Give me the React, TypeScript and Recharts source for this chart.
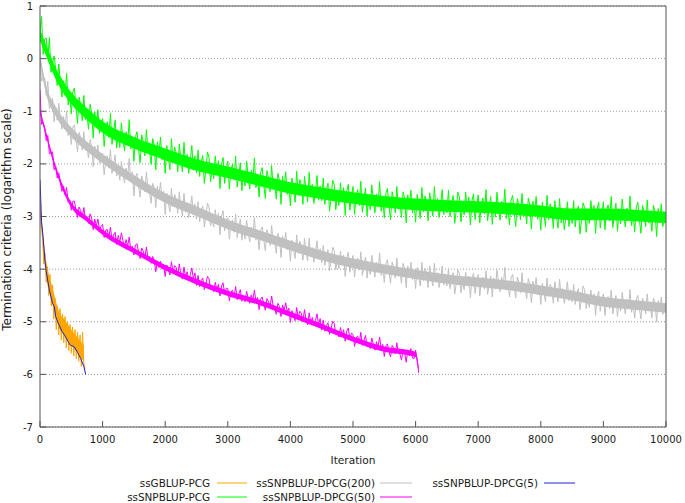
import React from 'react';
import { ComposedChart, Line, Area, XAxis, YAxis, CartesianGrid, Legend, Label } from 'recharts';

// ---------- data ----------
const xTicks = [0, 1000, 2000, 3000, 4000, 5000, 6000, 7000, 8000, 9000, 10000];
const yTicks = [-7, -6, -5, -4, -3, -2, -1, 0, 1];

const seriesNames = [
  'ssGBLUP-PCG',
  'ssSNPBLUP-PCG',
  'ssSNPBLUP-DPCG(200)',
  'ssSNPBLUP-DPCG(50)',
  'ssSNPBLUP-DPCG(5)',
];

// sampling step (iterations) of the hand-read series
const pcgStep = 25;
const dpcg200Step = 25;
const dpcg50Step = 25;
const gblupStep = 20;

// ssSNPBLUP-PCG (log10 termination criterion), every 25 iterations, 0..10000
const snpPcg = [
  0.5, 0.8, 0.08, 0.37, 0.39, 0.02, 0.4, -0.26, -0.1, 0.05,
  -0.18, -0.51, -0.1, -0.45, -0.73, -0.42, -0.7, -0.28, -0.88, -0.69,
  -1.05, -0.62, -0.56, -0.93, -1.23, -0.73, -0.88, -1.18, -0.7, -1.16,
  -1.05, -1.34, -0.87, -1.03, -1.51, -1.01, -1.27, -0.97, -1.42, -1.25,
  -1.14, -1.67, -1.3, -1.2, -1.5, -1.04, -1.63, -1.4, -1.17, -1.7,
  -1.42, -1.69, -1.22, -1.52, -1.75, -1.39, -1.62, -1.16, -1.72, -1.49,
  -1.95, -1.48, -1.39, -1.72, -1.98, -1.45, -1.58, -1.85, -1.35, -1.78,
  -1.75, -2.01, -1.52, -1.65, -2.11, -1.58, -1.82, -1.49, -1.92, -1.72,
  -2.18, -1.65, -1.88, -2.11, -1.52, -1.98, -1.68, -1.78, -2.15, -1.62,
  -1.92, -2.15, -1.59, -2.05, -1.82, -2.18, -1.95, -1.65, -2.12, -1.85,
  -2.17, -1.74, -2.24, -1.97, -1.84, -2.37, -2.11, -1.78, -1.87, -2.34,
  -2.08, -2.28, -1.85, -2.18, -1.94, -2.47, -2.01, -1.88, -2.37, -2.11,
  -1.95, -2.48, -2.11, -2.01, -2.31, -1.85, -2.44, -2.21, -1.98, -2.51,
  -2.15, -2.42, -1.95, -2.25, -2.48, -2.12, -2.35, -1.89, -2.45, -2.22,
  -2.63, -2.16, -2.07, -2.4, -2.66, -2.13, -2.26, -2.53, -2.03, -2.46,
  -2.41, -2.67, -2.18, -2.31, -2.77, -2.24, -2.48, -2.15, -2.58, -2.38,
  -2.8, -2.27, -2.5, -2.73, -2.14, -2.6, -2.3, -2.4, -2.77, -2.24,
  -2.49, -2.72, -2.16, -2.62, -2.39, -2.75, -2.52, -2.22, -2.69, -2.42,
  -2.7, -2.27, -2.77, -2.5, -2.37, -2.9, -2.64, -2.31, -2.4, -2.87,
  -2.59, -2.79, -2.36, -2.69, -2.45, -2.98, -2.52, -2.39, -2.88, -2.62,
  -2.43, -2.96, -2.59, -2.49, -2.79, -2.33, -2.92, -2.69, -2.46, -2.99,
  -2.6, -2.87, -2.4, -2.7, -2.93, -2.57, -2.8, -2.34, -2.9, -2.67,
  -3.03, -2.56, -2.47, -2.8, -3.06, -2.53, -2.66, -2.93, -2.43, -2.86,
  -2.76, -3.02, -2.53, -2.66, -3.12, -2.59, -2.83, -2.5, -2.93, -2.73,
  -3.11, -2.58, -2.81, -3.04, -2.45, -2.91, -2.61, -2.71, -3.08, -2.55,
  -2.76, -2.99, -2.43, -2.89, -2.66, -3.02, -2.79, -2.49, -2.96, -2.69,
  -2.93, -2.5, -3.0, -2.73, -2.6, -3.13, -2.87, -2.54, -2.63, -3.1,
  -2.77, -2.97, -2.54, -2.87, -2.63, -3.16, -2.7, -2.57, -3.06, -2.8,
  -2.59, -3.12, -2.75, -2.65, -2.95, -2.49, -3.08, -2.85, -2.62, -3.15,
  -2.74, -3.01, -2.54, -2.84, -3.07, -2.71, -2.94, -2.48, -3.04, -2.81,
  -3.16, -2.69, -2.6, -2.93, -3.19, -2.66, -2.79, -3.06, -2.56, -2.99,
  -2.88, -3.14, -2.65, -2.78, -3.24, -2.71, -2.95, -2.62, -3.05, -2.85,
  -3.26, -2.73, -2.96, -3.19, -2.6, -3.06, -2.76, -2.86, -3.23, -2.7,
  -2.99, -3.22, -2.66, -3.12, -2.89, -3.25, -3.02, -2.72, -3.19, -2.92,
  -3.13, -2.7, -3.2, -2.93, -2.8, -3.33, -3.07, -2.74, -2.83, -3.3,
  -2.93, -3.13, -2.7, -3.03, -2.79, -3.32, -2.86, -2.73, -3.22, -2.96,
  -2.72, -3.25, -2.88, -2.78, -3.08, -2.62, -3.21, -2.98, -2.75, -3.28,
  -2.87, -3.14, -2.67, -2.97, -3.2, -2.84, -3.07, -2.61, -3.17, -2.94,
  -3.29, -2.82, -2.73, -3.06, -3.32, -2.79, -2.92, -3.19, -2.69, -3.12,
  -3.02, -3.28, -2.79, -2.92, -3.38, -2.85, -3.09, -2.76, -3.19, -2.99,
  -3.1,
];

// ssSNPBLUP-DPCG(200), every 25 iterations, 0..10000
const dpcg200 = [
  0.18, -0.43, -0.35, -0.37, -0.7, -0.43, -0.95, -0.85, -0.75, -1.2,
  -0.92, -1.17, -0.85, -1.12, -1.34, -1.1, -1.32, -1.0, -1.46, -1.31,
  -1.63, -1.3, -1.26, -1.54, -1.77, -1.4, -1.52, -1.74, -1.39, -1.74,
  -1.67, -1.89, -1.54, -1.66, -2.05, -1.66, -1.86, -1.64, -1.99, -1.85,
  -1.8, -2.21, -1.93, -1.85, -2.08, -1.73, -2.18, -2.01, -1.83, -2.23,
  -2.1, -2.31, -1.95, -2.18, -2.36, -2.08, -2.26, -1.9, -2.33, -2.15,
  -2.61, -2.25, -2.18, -2.43, -2.63, -2.23, -2.33, -2.53, -2.15, -2.48,
  -2.55, -2.75, -2.37, -2.47, -2.83, -2.42, -2.6, -2.35, -2.68, -2.52,
  -2.96, -2.56, -2.74, -2.91, -2.46, -2.81, -2.58, -2.66, -2.94, -2.53,
  -2.81, -2.99, -2.56, -2.92, -2.74, -3.02, -2.84, -2.61, -2.97, -2.76,
  -3.05, -2.72, -3.1, -2.9, -2.8, -3.2, -3.0, -2.75, -2.82, -3.18,
  -3.04, -3.2, -2.87, -3.12, -2.94, -3.35, -2.99, -2.89, -3.27, -3.07,
  -3.02, -3.43, -3.15, -3.07, -3.3, -2.95, -3.4, -3.23, -3.05, -3.45,
  -3.22, -3.43, -3.07, -3.3, -3.48, -3.2, -3.38, -3.02, -3.45, -3.27,
  -3.63, -3.27, -3.2, -3.45, -3.65, -3.25, -3.35, -3.55, -3.17, -3.5,
  -3.5, -3.7, -3.32, -3.42, -3.78, -3.37, -3.55, -3.3, -3.63, -3.47,
  -3.85, -3.45, -3.63, -3.8, -3.35, -3.7, -3.47, -3.55, -3.83, -3.42,
  -3.66, -3.84, -3.41, -3.77, -3.59, -3.87, -3.69, -3.46, -3.82, -3.61,
  -3.88, -3.55, -3.93, -3.73, -3.63, -4.03, -3.83, -3.58, -3.65, -4.01,
  -3.83, -3.99, -3.66, -3.91, -3.73, -4.14, -3.78, -3.68, -4.06, -3.86,
  -3.74, -4.15, -3.87, -3.79, -4.02, -3.67, -4.12, -3.95, -3.77, -4.17,
  -3.89, -4.1, -3.74, -3.97, -4.15, -3.87, -4.05, -3.69, -4.12, -3.94,
  -4.25, -3.89, -3.82, -4.07, -4.27, -3.87, -3.97, -4.17, -3.79, -4.12,
  -4.07, -4.27, -3.89, -3.99, -4.35, -3.94, -4.12, -3.87, -4.2, -4.04,
  -4.37, -3.97, -4.15, -4.32, -3.87, -4.22, -3.99, -4.07, -4.35, -3.94,
  -4.14, -4.32, -3.89, -4.25, -4.07, -4.35, -4.17, -3.94, -4.3, -4.09,
  -4.32, -3.99, -4.37, -4.17, -4.07, -4.47, -4.27, -4.02, -4.09, -4.45,
  -4.23, -4.39, -4.06, -4.31, -4.13, -4.54, -4.18, -4.08, -4.46, -4.26,
  -4.1, -4.51, -4.23, -4.15, -4.38, -4.03, -4.48, -4.31, -4.13, -4.53,
  -4.17, -4.38, -4.02, -4.25, -4.43, -4.15, -4.33, -3.97, -4.4, -4.22,
  -4.53, -4.17, -4.1, -4.35, -4.55, -4.15, -4.25, -4.45, -4.07, -4.4,
  -4.36, -4.56, -4.18, -4.28, -4.64, -4.23, -4.41, -4.16, -4.49, -4.33,
  -4.67, -4.27, -4.45, -4.62, -4.17, -4.52, -4.29, -4.37, -4.65, -4.24,
  -4.44, -4.62, -4.19, -4.55, -4.37, -4.65, -4.47, -4.24, -4.6, -4.39,
  -4.62, -4.29, -4.67, -4.47, -4.37, -4.77, -4.57, -4.32, -4.39, -4.75,
  -4.57, -4.73, -4.4, -4.65, -4.47, -4.88, -4.52, -4.42, -4.8, -4.6,
  -4.47, -4.88, -4.6, -4.52, -4.75, -4.4, -4.85, -4.68, -4.5, -4.9,
  -4.59, -4.8, -4.44, -4.67, -4.85, -4.57, -4.75, -4.39, -4.82, -4.64,
  -4.93, -4.57, -4.5, -4.75, -4.95, -4.55, -4.65, -4.85, -4.47, -4.8,
  -4.73, -4.93, -4.55, -4.65, -5.01, -4.6, -4.78, -4.53, -4.86, -4.7,
  -4.8,
];

// ssSNPBLUP-DPCG(50), every 25 iterations, 0..6050
const dpcg50 = [
  -0.6, -1.25, -1.22, -1.31, -1.56, -1.46, -1.81, -1.79, -1.77, -2.11,
  -2.04, -2.27, -2.17, -2.36, -2.52, -2.42, -2.59, -2.45, -2.73, -2.69,
  -2.88, -2.71, -2.71, -2.88, -3.02, -2.82, -2.89, -3.02, -2.83, -3.04,
  -3.0, -3.13, -2.95, -3.03, -3.25, -3.05, -3.17, -3.05, -3.25, -3.19,
  -3.15, -3.4, -3.26, -3.25, -3.4, -3.2, -3.44, -3.35, -3.3, -3.53,
  -3.36, -3.49, -3.31, -3.46, -3.58, -3.44, -3.56, -3.39, -3.64, -3.56,
  -3.73, -3.54, -3.52, -3.68, -3.8, -3.6, -3.66, -3.79, -3.58, -3.78,
  -3.76, -3.89, -3.76, -3.84, -4.05, -3.85, -3.97, -3.85, -4.0, -3.92,
  -4.14, -3.92, -4.01, -4.11, -3.86, -4.06, -3.93, -3.97, -4.13, -3.9,
  -4.1, -4.19, -3.96, -4.15, -4.05, -4.21, -4.11, -3.98, -4.18, -4.07,
  -4.31, -4.12, -4.33, -4.22, -4.17, -4.39, -4.28, -4.14, -4.18, -4.38,
  -4.35, -4.43, -4.25, -4.39, -4.29, -4.51, -4.32, -4.26, -4.47, -4.36,
  -4.37, -4.6, -4.44, -4.4, -4.53, -4.33, -4.58, -4.48, -4.39, -4.61,
  -4.51, -4.62, -4.42, -4.55, -4.65, -4.49, -4.59, -4.4, -4.63, -4.54,
  -4.77, -4.57, -4.53, -4.67, -4.78, -4.56, -4.61, -4.72, -4.51, -4.7,
  -4.75, -4.86, -4.65, -4.71, -4.9, -4.68, -4.78, -4.64, -4.82, -4.74,
  -5.01, -4.79, -4.88, -4.98, -4.73, -4.93, -4.8, -4.84, -5.0, -4.77,
  -4.97, -5.06, -4.83, -5.02, -4.92, -5.08, -4.98, -4.85, -5.05, -4.94,
  -5.16, -4.97, -5.18, -5.07, -5.02, -5.24, -5.13, -4.99, -5.03, -5.23,
  -5.21, -5.29, -5.11, -5.25, -5.15, -5.37, -5.18, -5.12, -5.33, -5.22,
  -5.24, -5.47, -5.31, -5.27, -5.4, -5.2, -5.45, -5.35, -5.26, -5.48,
  -5.4, -5.51, -5.31, -5.44, -5.54, -5.38, -5.48, -5.29, -5.52, -5.43,
  -5.66, -5.46, -5.42, -5.56, -5.67, -5.45, -5.5, -5.61, -5.4, -5.59,
  -5.62, -5.73, -5.52, -5.58, -5.77, -5.55, -5.65, -5.51, -5.69, -5.7,
  -5.54, -5.75, -5.97,
];

// dense core of each noisy band (where the curve is drawn solid)
const pcgBandIter = [0, 100, 250, 500, 750, 1000, 1500, 2000, 2500, 3000, 3500, 4000, 4500, 5000, 5500, 6000, 6500, 7000, 7500, 8000, 8500, 9000, 9500, 10000];
const snpPcgHi = [0.56, 0.26, -0.17, -0.64, -0.94, -1.19, -1.49, -1.71, -1.91, -2.05, -2.2, -2.35, -2.45, -2.54, -2.61, -2.66, -2.69, -2.71, -2.74, -2.79, -2.85, -2.85, -2.87, -2.91];
const snpPcgLo = [0.34, 0.04, -0.39, -0.86, -1.16, -1.41, -1.71, -1.93, -2.13, -2.27, -2.42, -2.57, -2.67, -2.76, -2.83, -2.88, -2.91, -2.93, -2.96, -3.01, -3.07, -3.07, -3.09, -3.13];
const dpcg200Hi = [0.09, -0.51, -0.91, -1.31, -1.58, -1.81, -2.21, -2.56, -2.81, -3.06, -3.26, -3.46, -3.65, -3.8, -3.91, -4.01, -4.1, -4.16, -4.22, -4.31, -4.41, -4.53, -4.59, -4.65];
const dpcg200Lo = [-0.09, -0.69, -1.09, -1.49, -1.76, -1.99, -2.39, -2.74, -2.99, -3.24, -3.44, -3.64, -3.83, -3.98, -4.09, -4.19, -4.28, -4.34, -4.4, -4.49, -4.59, -4.71, -4.77, -4.83];
const dpcg50BandIter = [0, 100, 250, 500, 750, 1000, 1500, 2000, 2500, 3000, 3500, 4000, 4500, 5000, 5500, 6000, 6050];
const dpcg50Hi = [-0.95, -1.4, -2.03, -2.73, -3.0, -3.25, -3.6, -3.92, -4.19, -4.41, -4.58, -4.81, -5.04, -5.28, -5.47, -5.57, -5.85];
const dpcg50Lo = [-1.05, -1.5, -2.13, -2.83, -3.1, -3.35, -3.7, -4.02, -4.29, -4.51, -4.68, -4.91, -5.14, -5.38, -5.57, -5.67, -5.95];
const gblupBandIter = [0, 50, 100, 200, 300, 400, 500, 600, 700];
const gblupHi = [-2.65, -3.35, -3.85, -4.35, -4.8, -4.97, -5.15, -5.3, -5.45];
const gblupLo = [-2.95, -3.65, -4.15, -4.65, -5.1, -5.27, -5.45, -5.6, -5.75];

// ssGBLUP-PCG, every 20 iterations, 0..720
const gblupPcg = [
  -2.7, -3.2, -3.3, -3.9, -3.7, -4.25, -3.95, -4.5, -4.1, -4.7,
  -4.3, -4.95, -4.55, -5.15, -4.7, -5.25, -4.75, -5.35, -4.85, -5.4,
  -4.9, -5.5, -5.0, -5.55, -5.05, -5.6, -5.1, -5.65, -5.15, -5.7,
  -5.2, -5.75, -5.25, -5.85, -5.2, -5.8, -5.9,
];

// ssSNPBLUP-DPCG(5)
const dpcg5Iter = [0, 25, 50, 80, 100, 150, 200, 230, 250, 300, 350, 400, 450, 480, 500, 550, 600, 650, 700, 730];
const dpcg5 = [-2.3, -3.1, -3.4, -3.85, -4.05, -4.4, -4.65, -4.72, -4.9, -5.05, -5.18, -5.27, -5.38, -5.44, -5.45, -5.48, -5.58, -5.7, -5.85, -6.0];

// ---------- styles ----------
const COLORS = ['#ffa500', '#00ff00', '#c0c0c0', '#ff00ff', '#2020d0'];
const FONT = '"DejaVu Sans", sans-serif';
const TEXT = '#1a1a1a';
const BORDER = '#555555';

const byStep = (vals: number[], step: number) => vals.map((y, i) => ({ x: i * step, y }));
const byIter = (iters: number[], vals: number[]) => vals.map((y, i) => ({ x: iters[i], y }));
const band = (iters: number[], lo: number[], hi: number[]) => iters.map((x, i) => ({ x, band: [lo[i], hi[i]] }));

const seriesData = [
  byStep(gblupPcg, gblupStep),
  byStep(snpPcg, pcgStep),
  byStep(dpcg200, dpcg200Step),
  byStep(dpcg50, dpcg50Step),
  byIter(dpcg5Iter, dpcg5),
];

const bandData: (any[] | null)[] = [
  band(gblupBandIter, gblupLo, gblupHi),
  band(pcgBandIter, snpPcgLo, snpPcgHi),
  band(pcgBandIter, dpcg200Lo, dpcg200Hi),
  band(dpcg50BandIter, dpcg50Lo, dpcg50Hi),
  null,
];

// legend layout: [textRightX, lineX1, lineX2, rowY]
const legendLayout = [
  [210, 217, 247, 13],
  [210, 217, 247, 27],
  [375, 380, 412, 13],
  [375, 380, 412, 27],
  [538, 544, 575, 13],
];

const renderLegend = () => (
  <svg width={685} height={33} style={{ display: 'block' }}>
    {seriesNames.map((name, i) => {
      const [tx, x1, x2, y] = legendLayout[i];
      return (
        <g key={name}>
          <text x={tx} y={y} textAnchor="end" dominantBaseline="central" fontSize={10.4} fill={TEXT} fontFamily={FONT}>
            {name}
          </text>
          <line x1={x1} x2={x2} y1={y} y2={y} stroke={COLORS[i]} strokeWidth={1} />
        </g>
      );
    })}
  </svg>
);

const YLabel = (props: any) => {
  const vb = props.viewBox || { x: 0, y: 6, width: 40, height: 421 };
  const cx = 7;
  const cy = vb.y + vb.height / 2 + 3;
  return (
    <text x={cx} y={cy} transform={`rotate(-90, ${cx}, ${cy})`} textAnchor="middle" dominantBaseline="central" fontSize={12} fill={TEXT} fontFamily={FONT}>
      Termination criteria (logarithm scale)
    </text>
  );
};

export default function App() {
  const items: React.ReactNode[] = [];
  seriesNames.forEach((name, i) => {
    const b = bandData[i];
    if (b) {
      items.push(
        <Area
          key={name + '-band'}
          data={b}
          dataKey="band"
          type="monotone"
          stroke="none"
          fill={COLORS[i]}
          fillOpacity={1}
          legendType="none"
          activeDot={false}
          isAnimationActive={false}
        />
      );
    }
    items.push(
      <Line
        key={name}
        data={seriesData[i]}
        dataKey="y"
        name={name}
        type="linear"
        stroke={COLORS[i]}
        strokeWidth={1}
        dot={false}
        activeDot={false}
        isAnimationActive={false}
      />
    );
  });

  return (
    <div style={{ position: 'absolute', left: 0, top: 0, width: 685, height: 503, background: '#fff', fontFamily: FONT }}>
      <ComposedChart width={685} height={503} margin={{ top: 5, right: 18, bottom: 36, left: 0 }}>
        <CartesianGrid vertical={false} stroke="#9a9a9a" strokeDasharray="1 2" />
        <XAxis
          xAxisId={0}
          type="number"
          dataKey="x"
          domain={[0, 10000]}
          ticks={xTicks}
          allowDataOverflow
          height={40}
          stroke={BORDER}
          tickSize={-6}
          tickMargin={15}
          tick={{ fontSize: 10, fill: TEXT }}
        >
          <Label value="Iteration" position="insideBottom" offset={3} fontSize={10.6} fill={TEXT} />
        </XAxis>
        <XAxis
          xAxisId="top"
          orientation="top"
          type="number"
          dataKey="x"
          domain={[0, 10000]}
          ticks={xTicks}
          height={1}
          stroke={BORDER}
          tickSize={-6}
          tick={false}
        />
        <YAxis
          yAxisId={0}
          type="number"
          domain={[-7, 1]}
          ticks={yTicks}
          allowDataOverflow
          width={40}
          stroke={BORDER}
          tickSize={-6}
          tickMargin={13}
          tick={{ fontSize: 10, fill: TEXT }}
          label={<YLabel />}
        />
        <YAxis
          yAxisId="right"
          orientation="right"
          type="number"
          domain={[-7, 1]}
          ticks={yTicks}
          width={1}
          stroke={BORDER}
          tickSize={-6}
          tick={false}
        />
        {items}
        <Legend
          layout="horizontal"
          verticalAlign="middle"
          align="center"
          wrapperStyle={{ left: 0, top: 470, width: 685, height: 33 }}
          content={renderLegend}
        />
      </ComposedChart>
    </div>
  );
}
